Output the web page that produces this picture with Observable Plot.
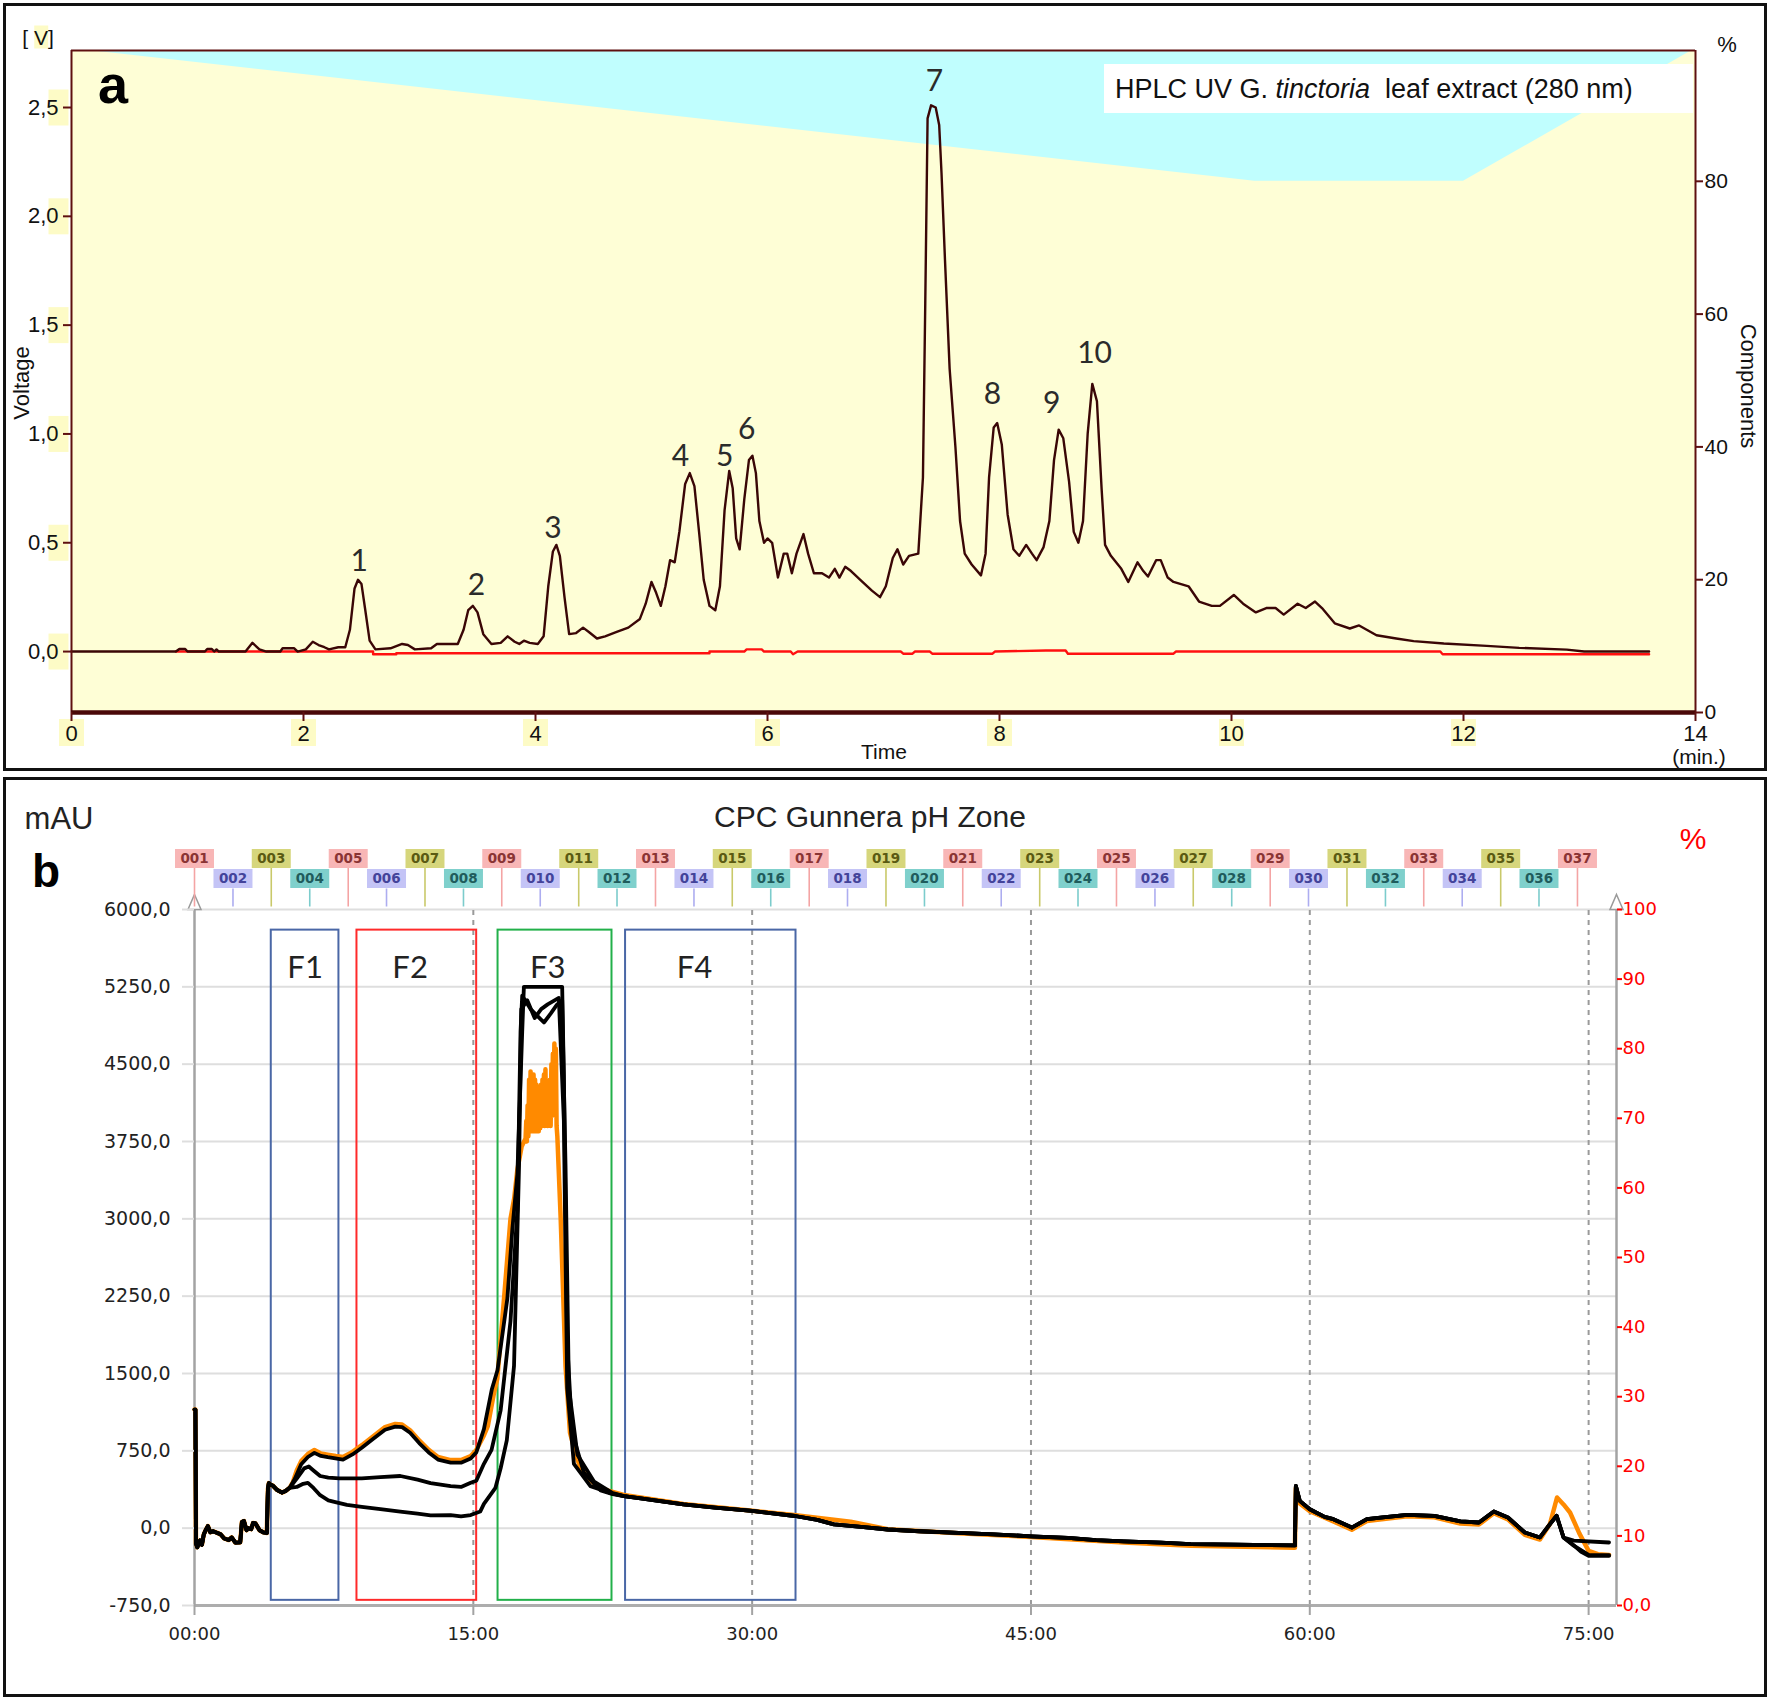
<!DOCTYPE html>
<html><head><meta charset="utf-8">
<script src="https://cdn.jsdelivr.net/npm/d3@7"></script>
<script src="https://cdn.jsdelivr.net/npm/@observablehq/plot@0.6"></script>
<style>
html,body{margin:0;padding:0;background:#fff;}
#page{position:relative;width:1770px;height:1700px;overflow:hidden;font-family:"Liberation Sans",Arial,sans-serif;}
#page svg{position:absolute;left:0;}
.frame{position:absolute;border:3px solid #111;box-sizing:border-box;}
</style></head><body><div id="page"></div>
<script>
// ================= PANEL A DATA (HPLC) =================
const aTicksY = [0, 0.5, 1, 1.5, 2, 2.5];
const aTicksX = [0, 2, 4, 6, 8, 10, 12, 14];
const aTicksPct = [0, 20, 40, 60, 80];
const aDomainV = [-0.28, 2.762];
const aPctTop = 99.7;
// solvent gradient (Components %)
const compTime = [0, 10.2, 12, 14];
const compPct = [100, 80, 80, 100];
// chromatogram [time (min), voltage (V)]
const chromPoints = [
[0,0],[0.9,0],[0.93,0.012],[0.98,0.012],[1.0,0],[1.15,0],[1.17,0.012],[1.21,0.012],[1.23,0],[1.25,0.01],[1.27,0],
[1.5,0],[1.56,0.04],[1.62,0.01],[1.68,0],[1.8,0],[1.82,0.015],[1.92,0.015],[1.95,0],[2.02,0.01],[2.08,0.045],
[2.13,0.03],[2.18,0.02],[2.22,0.01],[2.3,0.02],[2.36,0.02],[2.4,0.1],[2.44,0.29],[2.47,0.33],[2.5,0.31],[2.53,0.2],
[2.57,0.05],[2.62,0.01],[2.75,0.015],[2.85,0.035],[2.9,0.03],[2.96,0.01],[3.1,0.015],[3.15,0.035],[3.33,0.035],
[3.38,0.1],[3.42,0.19],[3.46,0.21],[3.5,0.18],[3.55,0.08],[3.62,0.035],[3.7,0.04],[3.76,0.07],[3.82,0.045],
[3.86,0.035],[3.9,0.05],[3.95,0.04],[4.02,0.035],[4.07,0.07],[4.11,0.3],[4.15,0.46],[4.18,0.49],[4.21,0.44],
[4.25,0.25],[4.29,0.08],[4.35,0.085],[4.41,0.11],[4.46,0.09],[4.53,0.06],[4.6,0.07],[4.7,0.09],[4.8,0.11],
[4.9,0.15],[4.95,0.22],[5.0,0.32],[5.04,0.27],[5.08,0.21],[5.12,0.3],[5.16,0.42],[5.2,0.41],[5.24,0.55],
[5.29,0.77],[5.33,0.82],[5.37,0.76],[5.41,0.55],[5.45,0.33],[5.5,0.21],[5.55,0.19],[5.59,0.3],[5.63,0.65],
[5.67,0.83],[5.7,0.75],[5.73,0.52],[5.76,0.47],[5.8,0.7],[5.84,0.88],[5.87,0.9],[5.9,0.82],[5.93,0.6],[5.97,0.5],
[6.0,0.52],[6.04,0.5],[6.09,0.34],[6.14,0.45],[6.17,0.45],[6.21,0.36],[6.25,0.45],[6.31,0.54],[6.35,0.45],
[6.4,0.36],[6.47,0.36],[6.53,0.34],[6.58,0.38],[6.62,0.34],[6.67,0.39],[6.72,0.37],[6.8,0.33],[6.9,0.28],
[6.97,0.25],[7.02,0.3],[7.08,0.43],[7.12,0.47],[7.17,0.4],[7.22,0.44],[7.3,0.45],[7.34,0.8],[7.36,1.6],
[7.38,2.45],[7.41,2.51],[7.45,2.5],[7.48,2.42],[7.5,2.2],[7.53,1.8],[7.57,1.3],[7.62,0.94],[7.66,0.6],[7.7,0.45],
[7.76,0.4],[7.84,0.35],[7.88,0.45],[7.91,0.8],[7.95,1.03],[7.98,1.05],[8.02,0.95],[8.07,0.63],[8.12,0.47],
[8.17,0.44],[8.23,0.49],[8.28,0.45],[8.32,0.42],[8.38,0.48],[8.43,0.6],[8.47,0.88],[8.51,1.02],[8.55,0.98],
[8.6,0.78],[8.64,0.55],[8.68,0.5],[8.72,0.6],[8.76,1.0],[8.8,1.23],[8.84,1.15],[8.88,0.75],[8.91,0.49],
[8.96,0.44],[9.05,0.38],[9.11,0.32],[9.19,0.41],[9.24,0.37],[9.28,0.345],[9.35,0.42],[9.39,0.42],[9.45,0.34],
[9.5,0.32],[9.63,0.3],[9.72,0.23],[9.83,0.21],[9.9,0.21],[10.02,0.26],[10.1,0.22],[10.21,0.18],[10.3,0.2],
[10.38,0.2],[10.45,0.17],[10.57,0.22],[10.64,0.2],[10.72,0.23],[10.78,0.2],[10.89,0.13],[11.02,0.106],
[11.1,0.12],[11.25,0.075],[11.42,0.06],[11.57,0.048],[11.83,0.037],[12.2,0.026],[12.48,0.017],[12.89,0.009],
[13.04,0],[13.6,0]];
// red baseline trace
const basePoints = [
[0.9,0],[2.6,0],[2.6,-0.012],[2.8,-0.012],[2.8,-0.008],[5.5,-0.008],[5.5,0],[5.8,0],[5.82,0.01],[5.95,0.01],
[5.97,0],[6.2,0],[6.22,-0.012],[6.26,0],[7.15,0],[7.17,-0.01],[7.25,-0.01],[7.27,0],[7.4,0],[7.42,-0.01],
[7.94,-0.01],[7.96,0],[8.4,0.005],[8.57,0.005],[8.59,-0.01],[9.5,-0.01],[9.52,0],[11.8,0],[11.82,-0.012],[13.6,-0.012]];
// peak labels
const peakNum = ["1","2","3","4","5","6","7","8","9","10"];
const peakTime = [2.48, 3.49, 4.15, 5.25, 5.63, 5.82, 7.44, 7.94, 8.45, 8.82];
const peakVolt = [0.415, 0.306, 0.565, 0.898, 0.898, 1.02, 2.62, 1.18, 1.14, 1.37];

// ================= PANEL B DATA (CPC) =================
const bTicksY = [-750, 0, 750, 1500, 2250, 3000, 3750, 4500, 5250, 6000];
const bTicksX = [0, 15, 30, 45, 60, 75];
const bTicksPct = [0, 10, 20, 30, 40, 50, 60, 70, 80, 90, 100];
const bRightEdge = 76.5;
const cpcStart = [
[0,1150],[0.05,1150],[0.08,-150],[0.15,-185],[0.3,-120],[0.4,-160],[0.5,-60],[0.6,-20],[0.72,20],[0.85,-40],
[1.0,-30],[1.23,-46],[1.4,-60],[1.6,-100],[1.84,-115],[2.0,-90],[2.2,-140],[2.46,-138],[2.55,60],[2.66,69],
[2.8,-20],[2.87,0],[3.05,-10],[3.15,50],[3.28,46],[3.5,-20],[3.7,-40],[3.89,-46],[3.95,380],[4.0,437],[4.1,420],
[4.2,414],[4.45,370],[4.71,345],[4.9,360],[5.12,391]];
const orangeMid = [
[5.3,450],[5.5,560],[5.74,650],[6.1,720],[6.45,759],[6.8,725],[7.17,713],[7.6,700],[7.99,690],[8.5,740],[9.0,805],
[9.6,890],[10.25,980],[10.8,1010],[11.17,1005],[11.6,950],[12.09,851],[12.6,760],[13.1,690],[13.78,660],[14.34,660],
[14.86,700],[15.16,759],[15.57,900],[15.78,989],[16.1,1300],[16.29,1449],[16.65,2224],[17.0,3002],[17.2,3200],
[17.37,3478],[17.6,3700],[17.81,3780],[17.85,3950],[17.88,3750],[17.92,4100],[17.96,3800],[18.0,4350],[18.04,3850],
[18.08,4430],[18.12,3900],[18.16,4300],[18.2,3850],[18.24,4400],[18.28,3900],[18.32,4350],[18.36,3850],[18.4,4300],
[18.44,3900],[18.48,4250],[18.52,3850],[18.56,4200],[18.6,3880],[18.64,4300],[18.68,3900],[18.72,4350],[18.76,3950],
[18.8,4400],[18.84,3900],[18.88,4450],[18.92,3950],[18.96,4300],[19.0,3900],[19.04,4250],[19.08,3950],[19.12,4350],
[19.16,3900],[19.2,4500],[19.24,4000],[19.28,4600],[19.32,4100],[19.36,4700],[19.4,4150],[19.44,4650],[19.48,3900],
[19.52,3800],[19.7,3002],[19.96,1575],[20.2,927],[20.5,720],[20.77,581],[21.2,480],[21.67,408],[22.3,360]];
const orangeTail = [
[23.1,322],[26.3,235],[29.9,171],[32.24,127],[35.3,62],[37.3,-10],[41.1,-50],[45,-85],[50,-140],[53.6,-170],
[59.2,-190],[59.25,390],[59.46,240],[60,165],[61.27,65],[62.26,-15],[63.07,70],[65.24,115],[66.7,105],[68.1,45],
[69.1,35],[69.9,145],[70.66,85],[71.57,-65],[72.38,-110],[72.92,40],[73.3,297],[73.65,230],[74.0,152],[74.5,-50],
[75.0,-220],[75.5,-252],[76.1,-260]];
const blackAMid = [
[5.4,480],[5.74,620],[6.1,690],[6.45,730],[6.8,700],[7.17,688],[7.99,665],[8.5,715],[9.0,780],[9.6,865],
[10.25,955],[10.8,985],[11.17,980],[11.6,925],[12.09,825],[12.6,735],[13.1,665],[13.78,635],[14.34,635],
[14.86,675],[15.16,735],[15.57,960],[16.0,1350],[16.3,1532],[16.83,2224],[17.1,2900],[17.37,3434],[17.63,4818],
[17.72,5250],[19.78,5250],[19.87,4385],[20.05,1792],[20.32,927],[20.95,538],[21.85,365],[22.5,330]];
const blackBMid = [
[5.5,480],[5.9,580],[6.15,598],[6.4,560],[6.76,506],[7.2,490],[7.79,483],[9.0,483],[10.0,495],[11.07,506],
[12.0,470],[12.7,437],[13.78,408],[14.34,400],[14.86,440],[15.16,460],[15.57,624],[15.98,760],[16.47,1143],
[17.0,2008],[17.37,3089],[17.54,4818],[17.63,5164],[18.08,5034],[18.44,4969],[18.8,4904],[19.16,4990],
[19.5,5077],[19.78,5120],[19.96,3521],[20.14,1359],[20.6,711],[21.5,451],[22.5,340]];
const blackCMid = [
[5.5,400],[5.85,430],[6.1,440],[6.4,390],[6.76,320],[7.2,270],[7.58,253],[8.2,225],[9.0,207],[10.0,185],
[11.07,161],[12.0,140],[12.7,124],[13.78,127],[14.34,115],[14.86,127],[15.37,161],[15.57,235],[16.19,391],
[16.47,581],[16.8,851],[17.19,1575],[17.46,3521],[17.58,5034],[17.9,5120],[18.3,4947],[18.65,5034],[19.0,5080],
[19.6,5142],[19.87,3953],[20.05,1359],[20.41,624],[21.3,408],[22.5,335]];
const blackTail = [
[23.1,310],[24,290],[26.3,230],[28,200],[30,167],[32.3,118],[33.5,80],[34.4,36],[36,10],[37.3,-13],[39,-30],
[41.1,-46],[43,-60],[45,-79],[47,-95],[48.5,-115],[50,-128],[52,-140],[53.6,-154],[56,-160],[59.2,-167],
[59.25,410],[59.46,265],[60,184],[60.8,110],[61.27,87],[62.26,6],[63.07,87],[63.8,103],[65.24,129],[66.7,120],
[68.1,65],[69.1,55],[69.9,162],[70.66,103],[71.57,-42],[72.38,-90],[72.92,39],[73.28,120],[73.65,-90]];
const blackAEnd = [[74.2,-120],[76.1,-139]];
const blackBEnd = [[74.1,-150],[74.6,-230],[75.0,-268],[76.1,-268]];
const blackCEnd = [[74.2,-170],[75.0,-260],[76.1,-262]];
// fraction windows
const fracName = ["F1", "F2", "F3", "F4"];
const fracStart = [4.13, 8.74, 16.33, 23.19];
const fracEnd = [7.77, 15.18, 22.46, 32.36];
const fracLow = [-700, -700, -700, -700];
const fracHigh = [5800, 5800, 5800, 5800];
const fracLabelTime = [5.95, 11.6, 19.0, 26.9];
const fracLabelMau = [5430, 5430, 5430, 5430];
const fracColor = ["#4a67a6", "#ff2a2a", "#22b04a", "#4a67a6"];
// collected tubes
const tubeTime = [0,2.07,4.13,6.2,8.27,10.33,12.4,14.47,16.53,18.6,20.67,22.73,24.8,26.87,28.93,31.0,33.07,35.13,
37.2,39.27,41.33,43.4,45.47,47.53,49.6,51.67,53.73,55.8,57.87,59.93,62.0,64.07,66.13,68.2,70.27,72.33,74.4];
const tubeName = tubeTime.map((t, i) => String(i + 1).padStart(3, "0"));

// ================= HELPERS =================
const page = document.getElementById("page");
const fmtComma = d => d.toFixed(1).replace(".", ",");
const pctToV = p => aDomainV[0] + p / aPctTop * (aDomainV[1] - aDomainV[0]);
const vToPct = v => (v - aDomainV[0]) / (aDomainV[1] - aDomainV[0]) * aPctTop;
const pctToMau = p => -750 + p * 67.5;
const mauToPct = v => (v + 750) / 67.5;
const rectSym = (w, h) => ({draw(ctx) { ctx.moveTo(-w/2, -h/2); ctx.lineTo(w/2, -h/2); ctx.lineTo(w/2, h/2); ctx.lineTo(-w/2, h/2); ctx.closePath(); }});
const stemSym = L => ({draw(ctx) { ctx.moveTo(0, 0); ctx.lineTo(0, -L); }});
const arrowSym = {draw(ctx) { ctx.moveTo(0, -15); ctx.lineTo(6.5, 0); ctx.lineTo(-6.5, 0); ctx.closePath(); }};
const toRows = (pts, trace) => pts.map(([t, v]) => ({t, v, trace}));
function label(html, x, y, css, rot, anchorLeft) {
  const d = document.createElement("div");
  d.innerHTML = html;
  const tx = anchorLeft ? "0" : "-50%";
  d.style.cssText = `position:absolute;left:${x}px;top:${y}px;white-space:nowrap;line-height:1;transform:translate(${tx},-50%)${rot ? " rotate(" + rot + "deg)" : ""};` + css;
  page.appendChild(d);
}

// ================= PANEL A =================
const compRows = compTime.map((t, i) => ({t, pct: compPct[i]}));
const chromRows = toRows(chromPoints, "uv");
const baseRows = toRows(basePoints, "base");
const peakRows = peakNum.map((n, i) => ({n, t: peakTime[i], v: peakVolt[i]}));
const maroon = "#5e1010";
const fontA = "'Liberation Sans Narrow','Arial Narrow','Liberation Sans',Arial,sans-serif";

const plotA = Plot.plot({
  width: 1770, height: 775,
  marginLeft: 71, marginRight: 75, marginTop: 50, marginBottom: 63,
  x: {domain: [0, 14]},
  y: {domain: aDomainV},
  style: {background: "transparent", fontFamily: fontA, color: "#111"},
  marks: [
    Plot.frame({fill: "#fefed6", stroke: null}),
    Plot.areaY(compRows, {x: "t", y1: d => pctToV(d.pct), y2: aDomainV[1], fill: "#c0fefe", clip: true}),
    Plot.line(baseRows, {x: "t", y: "v", stroke: "#ff1010", strokeWidth: 2.4}),
    Plot.line(chromRows, {x: "t", y: "v", stroke: "#3a0606", strokeWidth: 2.4}),
    Plot.text(peakRows, {x: "t", y: "v", text: "n", fontSize: 30, fill: "#2b2b2b", fontFamily: "Lato, 'Open Sans', sans-serif"}),
    Plot.ruleY([aDomainV[1]], {stroke: maroon, strokeWidth: 2}),
    Plot.ruleX([0, 14], {stroke: maroon, strokeWidth: 2}),
    Plot.ruleY([aDomainV[0]], {stroke: "#4a0808", strokeWidth: 4.5}),
    Plot.dot(aTicksY, {x: 0, y: d => d, dx: -13, symbol: rectSym(20, 36), fill: "#fdfbc6", stroke: "none"}),
    Plot.dot(aTicksX.filter(d => d < 14), {x: d => d, y: aDomainV[0], dy: 20, symbol: rectSym(25, 27), fill: "#fdfbc6", stroke: "none"}),
    Plot.axisY(aTicksY, {anchor: "left", label: null, tickSize: 8, tickPadding: 5, tickFormat: fmtComma, fontSize: 22, stroke: maroon, strokeWidth: 2, fill: "#111"}),
    Plot.axisY(aTicksPct.map(pctToV), {anchor: "right", label: null, tickSize: 7, tickPadding: 2, tickFormat: v => String(Math.round(vToPct(v))), fontSize: 21, stroke: maroon, strokeWidth: 2, fill: "#111"}),
    Plot.axisX(aTicksX, {anchor: "bottom", label: null, tickSize: 9, tickPadding: 4, tickFormat: d => String(d), fontSize: 22, stroke: maroon, strokeWidth: 2, fill: "#111"})
  ]
});
plotA.style.top = "0px";
page.appendChild(plotA);

// ================= PANEL B =================
const orangeRows = toRows([...cpcStart, ...orangeMid, ...orangeTail], "orange");
const blackRows = [
  ...toRows([...cpcStart, ...blackAMid, ...blackTail, ...blackAEnd], "A"),
  ...toRows([...cpcStart, ...blackBMid, ...blackTail, ...blackBEnd], "B"),
  ...toRows([...cpcStart, ...blackCMid, ...blackTail, ...blackCEnd], "C")
];
const fracRows = fracName.map((name, i) => ({name, t0: fracStart[i], t1: fracEnd[i], lo: fracLow[i], hi: fracHigh[i], tl: fracLabelTime[i], yl: fracLabelMau[i], color: fracColor[i]}));
const tubeBg = ["#f8b6b6", "#c4c4f6", "#d6d67c", "#7fd0cc"];
const tubeFg = ["#8a3434", "#43439a", "#5a5a12", "#1f5c5c"];
const tubeStem = ["#f4a4a4", "#adadf0", "#c9c96a", "#7ccccc"];
const tubeRows = tubeTime.map((t, i) => ({t, name: tubeName[i], up: i % 2 === 0, bg: tubeBg[i % 4], fg: tubeFg[i % 4], st: tubeStem[i % 4]}));
const upRows = tubeRows.filter(d => d.up), lowRows = tubeRows.filter(d => !d.up);
const fontB = "'DejaVu Sans', Verdana, sans-serif";

const plotB = Plot.plot({
  width: 1770, height: 923,
  marginLeft: 194, marginRight: 154, marginTop: 132, marginBottom: 95,
  x: {domain: [0, bRightEdge]},
  y: {domain: [-750, 6000]},
  color: {type: "identity"},
  style: {background: "transparent", fontFamily: fontB, color: "#222"},
  marks: [
    Plot.ruleY(bTicksY, {x1: 0, x2: bRightEdge, stroke: "#dedede", strokeWidth: 2}),
    Plot.ruleX(bTicksX.filter(d => d > 0), {y1: -750, y2: 6000, stroke: "#9a9a9a", strokeWidth: 2, strokeDasharray: "5,5"}),
    Plot.ruleY([-750], {x1: 0, x2: bRightEdge, stroke: "#adadad", strokeWidth: 3}),
    Plot.ruleX([0, bRightEdge], {y1: -750, y2: 6000, stroke: "#a3a3a3", strokeWidth: 2.5}),
    Plot.dot([0, bRightEdge], {x: d => d, y: 6000, symbol: arrowSym, fill: "white", stroke: "#9a9a9a", strokeWidth: 1.5}),
    Plot.rect(fracRows, {x1: "t0", x2: "t1", y1: "lo", y2: "hi", stroke: "color", fill: "none", strokeWidth: 2}),
    Plot.text(fracRows, {x: "tl", y: "yl", text: "name", fontSize: 31, fill: "#222", fontFamily: "Lato, 'Open Sans', sans-serif"}),
    Plot.line(orangeRows, {x: "t", y: "v", stroke: "#ff8a00", strokeWidth: 4.5}),
    Plot.line(blackRows, {x: "t", y: "v", z: "trace", stroke: "#000", strokeWidth: 3.8}),
    // tube markers
    Plot.dot(upRows, {x: "t", y: 6000, dy: -3, symbol: stemSym(39), fill: "none", stroke: "st", strokeWidth: 1.6}),
    Plot.dot(lowRows, {x: "t", y: 6000, dy: -3, symbol: stemSym(18), fill: "none", stroke: "st", strokeWidth: 1.6}),
    Plot.dot(upRows, {x: "t", y: 6000, dy: -51, symbol: rectSym(39, 19), fill: "bg", stroke: "none"}),
    Plot.dot(lowRows, {x: "t", y: 6000, dy: -31, symbol: rectSym(39, 19), fill: "bg", stroke: "none"}),
    Plot.text(upRows, {x: "t", y: 6000, dy: -51, text: "name", fill: "fg", fontSize: 13.5, fontWeight: "bold"}),
    Plot.text(lowRows, {x: "t", y: 6000, dy: -31, text: "name", fill: "fg", fontSize: 13.5, fontWeight: "bold"}),
    // axes
    Plot.axisY(bTicksY, {anchor: "left", label: null, tickSize: 12, tickPadding: 12, tickFormat: fmtComma, fontSize: 19, stroke: "#dedede", strokeWidth: 2, fill: "#222"}),
    Plot.axisY(bTicksPct.map(pctToMau), {anchor: "right", label: null, tickSize: 5, tickPadding: 1, tickFormat: v => { const p = Math.round(mauToPct(v)); return p === 0 ? "0,0" : String(p); }, fontSize: 18, stroke: "#ff0000", strokeWidth: 2, fill: "#ff0000"}),
    Plot.axisX(bTicksX, {anchor: "bottom", label: null, tickSize: 10, tickPadding: 12, tickFormat: t => String(t).padStart(2, "0") + ":00", fontSize: 18, stroke: "#a3a3a3", strokeWidth: 2, fill: "#222"})
  ]
});
plotB.style.top = "777px";
page.appendChild(plotB);

// ================= FRAMES & TEXT =================
const fa = document.createElement("div"); fa.className = "frame";
fa.style.cssText += "left:3px;top:3px;width:1764px;height:768px;"; page.appendChild(fa);
const fb = document.createElement("div"); fb.className = "frame";
fb.style.cssText += "left:3px;top:777px;width:1764px;height:920px;"; page.appendChild(fb);

// panel a annotations
const boxA = document.createElement("div");
boxA.style.cssText = "position:absolute;left:1104px;top:64px;width:589px;height:49px;background:#fff;";
page.appendChild(boxA);
label("HPLC UV G. <i>tinctoria</i>&nbsp; leaf extract (280 nm)", 1115, 89, `font-family:${fontA};font-size:27px;color:#111;`, 0, true);
label("a", 113, 84, "font-family:'Liberation Sans',Arial;font-weight:bold;font-size:54px;color:#000;");
label("[ <span style='background:#fdfbc6'>V</span>]", 38, 37, `font-family:${fontA};font-size:21px;color:#111;`);
label("%", 1727, 45, `font-family:${fontA};font-size:22px;color:#111;`);
label("Voltage", 22, 383, `font-family:${fontA};font-size:22px;color:#111;`, -90);
label("Components", 1748, 386, `font-family:'Liberation Sans',Arial;font-size:22px;color:#111;`, 90);
label("Time", 884, 751, `font-family:${fontA};font-size:21px;color:#111;`);
label("(min.)", 1699, 756, `font-family:${fontA};font-size:21px;color:#111;`);

// panel b annotations
label("mAU", 59, 818, "font-family:'Liberation Sans',Arial;font-size:31px;color:#222;");
label("CPC Gunnera pH Zone", 870, 817, "font-family:'Liberation Sans',Arial;font-size:30px;color:#222;");
label("b", 46, 871, "font-family:'Liberation Sans',Arial;font-weight:bold;font-size:46px;color:#000;");
label("%", 1693, 839, "font-family:'Liberation Sans',Arial;font-size:30px;color:#ff0000;");
</script>
</body></html>
